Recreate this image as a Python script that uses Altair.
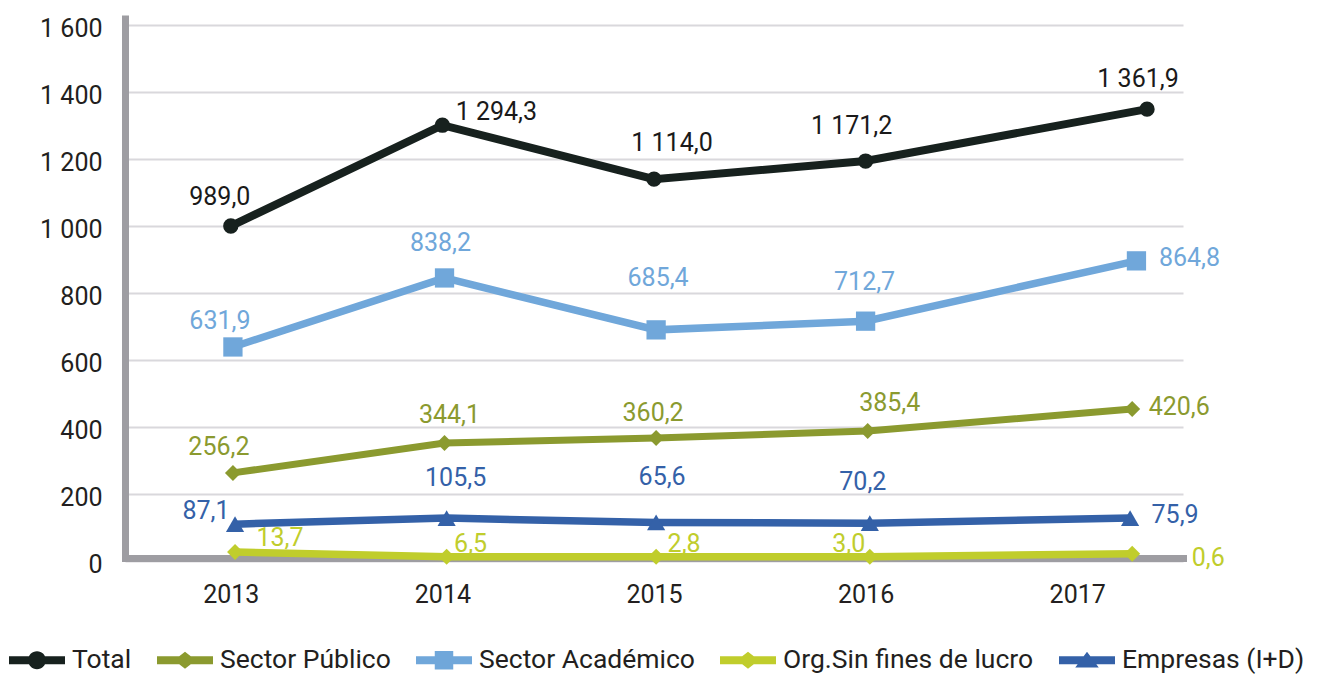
import altair as alt
import pandas as pd

# ---------------- data ----------------
years = [2013, 2014, 2015, 2016, 2017]
series_names = ["Total", "Sector Público", "Sector Académico",
                "Org.Sin fines de lucro", "Empresas (I+D)"]

# printed data labels
total_lbl = [989.0, 1294.3, 1114.0, 1171.2, 1361.9]
publico_lbl = [256.2, 344.1, 360.2, 385.4, 420.6]
academico_lbl = [631.9, 838.2, 685.4, 712.7, 864.8]
org_lbl = [13.7, 6.5, 2.8, 3.0, 0.6]
empresas_lbl = [87.1, 105.5, 65.6, 70.2, 75.9]

# heights at which the markers are drawn in the original
total_val = [1000, 1301, 1140, 1194, 1349]
publico_val = [263, 352, 367, 388, 454]
academico_val = [639, 845, 690, 716, 896]
org_val = [27, 13, 13, 13, 22]
empresas_val = [110, 128, 115, 113, 128]

# horizontal position (year units) at which the markers are drawn
total_x = [2013.0, 2014.0, 2015.0, 2016.0, 2017.33]
publico_x = [2013.01, 2014.01, 2015.01, 2016.01, 2017.26]
academico_x = [2013.01, 2014.01, 2015.01, 2016.0, 2017.28]
org_x = [2013.02, 2014.02, 2015.01, 2016.02, 2017.26]
empresas_x = [2013.02, 2014.02, 2015.01, 2016.02, 2017.25]

# ---------------- styles ----------------
line_colors = ["#17211e", "#8b9a2f", "#70a7da", "#c0cd2c", "#3461a8"]
label_colors = ["#1a1a1a", "#8b9a2f", "#70a7da", "#c0cd2c", "#3461a8"]
marker_shapes = ["circle", "diamond", "square", "diamond", "triangle-up"]
marker_sizes = [235, 256, 372, 256, 330]
line_widths = [8, 7, 7.5, 7.5, 7.5]

# label offsets from the marker (pixels): (dx, dy)
total_off = [(-11, -29), (54, -13), (18, -36), (-14, -35), (-9, -30)]
publico_off = [(-14, -26), (5, -28), (-3, -25), (22, -28), (47, -2)]
academico_off = [(-13, -26), (-4, -35), (2, -52), (-1, -39), (53, -3)]
org_off = [(45, -14), (24, -13), (28, -13), (-21, -13), (76, 4)]
empresas_off = [(-29, -13), (9, -40), (6, -45), (-7, -41), (45, -3)]

PLOT_W, PLOT_H = 1058, 546
X_DOMAIN = [2012.5, 2017.5]
Y_DOMAIN = [0, 1630]
PX_PER_YEAR = PLOT_W / (X_DOMAIN[1] - X_DOMAIN[0])
PX_PER_UNIT = PLOT_H / (Y_DOMAIN[1] - Y_DOMAIN[0])

FONT = "Roboto"
TEXT_COLOR = "#231f20"
AXIS_GRAY = "#9e9da2"
GRID_GRAY = "#d9d8dc"


def fmt(v):
    return f"{v:,.1f}".replace(",", " ").replace(".", ",")


rows = []
all_x = [total_x, publico_x, academico_x, org_x, empresas_x]
all_v = [total_val, publico_val, academico_val, org_val, empresas_val]
all_l = [total_lbl, publico_lbl, academico_lbl, org_lbl, empresas_lbl]
all_o = [total_off, publico_off, academico_off, org_off, empresas_off]
for i, name in enumerate(series_names):
    for j in range(len(years)):
        x = all_x[i][j]
        y = all_v[i][j]
        dx, dy = all_o[i][j]
        rows.append({
            "series": name, "order": i, "year": years[j],
            "x": x, "y": y,
            "txt": fmt(all_l[i][j]),
            "lx": x + dx / PX_PER_YEAR, "ly": y - dy / PX_PER_UNIT,
            "color": line_colors[i], "lcolor": label_colors[i],
            "shape": marker_shapes[i], "sz": marker_sizes[i],
            "sw": line_widths[i],
        })
df = pd.DataFrame(rows)

# legend symbols: line segment + marker (unit box -1..1, 1 unit = 28px)
h = 0.143


def with_line(marker):
    return f"M-1,{-h}L1,{-h}L1,{h}L-1,{h}Z" + marker


r = 0.32
legend_paths = [
    with_line(f"M{-r},0A{r},{r} 0 1,1 {r},0A{r},{r} 0 1,1 {-r},0Z"),
    with_line("M0,-0.3L0.39,0L0,0.3L-0.39,0Z"),
    with_line("M-0.33,-0.33L0.33,-0.33L0.33,0.33L-0.33,0.33Z"),
    with_line("M0,-0.3L0.39,0L0,0.3L-0.39,0Z"),
    with_line("M0,-0.3L0.42,0.26L-0.42,0.26Z"),
]

x_axis = alt.Axis(values=years, format="d", title=None, grid=False,
                  ticks=False, tickSize=0, domainColor=AXIS_GRAY,
                  domainWidth=7, domainCap="square", offset=-3,
                  labelFont=FONT, labelFontSize=25, labelColor=TEXT_COLOR,
                  labelPadding=24, labelFlush=False, labelOverlap=False)
y_axis = alt.Axis(values=list(range(0, 1601, 200)), title=None,
                  ticks=False, tickSize=0, grid=True, gridColor=GRID_GRAY,
                  gridWidth=2, domainColor=AXIS_GRAY, domainWidth=7,
                  labelExpr="replace(format(datum.value, ','), ',', ' ')",
                  labelFont=FONT, labelFontSize=25, labelColor=TEXT_COLOR,
                  labelPadding=23, labelOffset=3, labelOverlap=False)
x_scale = alt.Scale(domain=X_DOMAIN, nice=False, zero=False)
y_scale = alt.Scale(domain=Y_DOMAIN, nice=False, zero=True)

x_enc = alt.X("x:Q", scale=x_scale, axis=x_axis)
y_enc = alt.Y("y:Q", scale=y_scale, axis=y_axis)

base = alt.Chart(df)

lines = base.mark_line(strokeCap="butt", strokeJoin="miter").encode(
    x=x_enc, y=y_enc,
    color=alt.Color("color:N", scale=None),
    strokeWidth=alt.StrokeWidth("sw:Q", scale=None),
    detail="series:N",
    order="x:Q",
)

points = base.mark_point(filled=True, opacity=1, strokeWidth=0).encode(
    x=x_enc, y=y_enc,
    color=alt.Color("color:N", scale=None),
    shape=alt.Shape("shape:N", scale=None),
    size=alt.Size("sz:Q", scale=None),
)

labels = base.mark_text(font=FONT, fontSize=25, align="center",
                        baseline="middle").encode(
    x=alt.X("lx:Q", scale=x_scale, axis=x_axis),
    y=alt.Y("ly:Q", scale=y_scale, axis=y_axis),
    text="txt:N",
    color=alt.Color("lcolor:N", scale=None),
)

leg = alt.Legend(
    orient="none", legendX=-116, legendY=617, direction="horizontal",
    title=None, columns=5, symbolSize=3136, symbolStrokeWidth=0,
    symbolOpacity=1, labelFont=FONT, labelFontSize=26.5,
    labelColor=TEXT_COLOR, labelLimit=500, labelOffset=7,
    columnPadding=25, padding=0,
)
legend_df = pd.DataFrame({"series": series_names})
legend_layer = alt.Chart(legend_df).mark_point(
    filled=True, opacity=1, size=3136
).encode(
    color=alt.Color("series:N", sort=None,
                    scale=alt.Scale(domain=series_names, range=line_colors),
                    legend=leg),
    shape=alt.Shape("series:N", sort=None,
                    scale=alt.Scale(domain=series_names, range=legend_paths),
                    legend=leg),
).transform_filter("false")

chart = alt.layer(lines, points, labels, legend_layer).properties(
    width=PLOT_W, height=PLOT_H,
    autosize=alt.AutoSizeParams(type="none"),
    padding={"left": 117, "top": 7, "right": 134, "bottom": 113},
).configure(background="white", view=alt.ViewConfig(stroke=None))

chart.save("out.html", embed_options={"renderer": "svg", "actions": False})
